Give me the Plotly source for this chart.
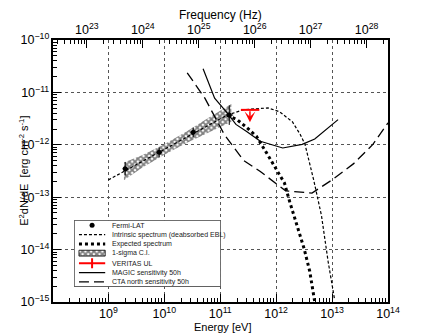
import numpy as np
import plotly.graph_objects as go

# ---- data (E in eV, E^2 dN/dE in erg cm^-2 s^-1) ----
fermi_E = [2.0e9, 8.1e9, 3.29e10, 1.45e11]
fermi_F = [3.5e-13, 7.2e-13, 1.74e-12, 3.7e-12]
fermi_Fup = [1.2e-13, 1.7e-13, 0.40e-12, 2.0e-12]
fermi_Fdn = [0.9e-13, 1.4e-13, 0.33e-12, 1.3e-12]
fermi_Eup = [0.25e9, 1.0e9, 4.0e9, 2.5e10]
fermi_Edn = [0.2e9, 0.9e9, 3.5e9, 2.0e10]

band_E = [1.9e9, 4.0e9, 1.0e10, 2.5e10, 6.3e10, 1.58e11]
band_hi = [4.6e-13, 6.3e-13, 1.03e-12, 1.80e-12, 3.31e-12, 6.0e-12]
band_lo = [2.1e-13, 3.63e-13, 6.49e-13, 1.08e-12, 1.74e-12, 2.75e-12]

intr_E = [1e9, 3e9, 1e10, 3e10, 1e11, 1.33e11, 2.63e11, 7.18e11, 1.15e12,
          1.95e12, 2.69e12, 3.28e12, 4.71e12, 6.46e12, 8.51e12, 1.10e13]
intr_F = [2.14e-13, 4.06e-13, 8.17e-13, 1.55e-12, 3.12e-12, 3.69e-12, 4.68e-12,
          5.05e-12, 4.27e-12, 2.75e-12, 1.58e-12, 1.02e-12, 2.09e-13, 4.47e-14,
          5.89e-15, 1.17e-15]

exp_E = [1.33e11, 2.0e11, 2.97e11, 4.44e11, 6.61e11,
         9.89e11, 1.41e12, 1.74e12, 2.39e12, 3.16e12, 3.98e12, 4.71e12, 4.9e12]
exp_F = [3.69e-12, 3.02e-12,
         2.14e-12, 1.45e-12, 7.24e-13, 3.55e-13, 1.86e-13, 8.3e-14, 2.88e-14,
         1.05e-14, 3.89e-15, 1.32e-15, 1.0e-15]

veritas_E = 3.4e11
veritas_Elo = 2.34e11
veritas_Ehi = 5.0e11
veritas_F = 4.64e-12
veritas_arrow_F = 2.7e-12

magic_E = [4.94e10, 7.94e10, 1.33e11, 1.91e11, 2.97e11, 5.21e11, 1.31e12, 2.92e12, 4.9e12, 1.28e13]
magic_F = [2.82e-11, 7.76e-12, 4.07e-12, 2.45e-12, 1.80e-12, 1.17e-12, 8.7e-13, 1.02e-12, 1.29e-12, 3.02e-12]

cta_E = [2.57e10, 5.31e10, 1.18e11, 2.63e11, 5.21e11, 1.48e12, 4.37e12, 9.68e12, 2.43e13, 5.37e13, 1e14]
cta_F = [2.37e-11, 7.76e-12, 1.58e-12, 5.0e-13, 3.09e-13, 1.32e-13, 1.20e-13, 2.09e-13, 4.37e-13, 1.02e-12, 2.63e-12]

legend_labels = ["Fermi-LAT", "Intrinsic spectrum (deabsorbed EBL)", "Expected spectrum",
                 "1-sigma C.I.", "VERITAS UL", "MAGIC sensitivity 50h", "CTA north sensitivity 50h"]

HZ_PER_EV = 2.418e14
FONT = "Liberation Sans, Arial, sans-serif"

intr_style = dict(color="black", width=1.2, dash="3px,2px")
exp_style = dict(color="black", width=3, dash="3px,3px")
magic_style = dict(color="black", width=1.2)
cta_style = dict(color="black", width=1.3, dash="10px,5px")
hatch = dict(shape="x", size=4, solidity=0.7, fgcolor="black", bgcolor="white")

fig = go.Figure()

# butterfly
fig.add_trace(go.Scatter(
    x=band_E + band_E[::-1], y=band_hi + band_lo[::-1], fill="toself",
    mode="lines", line=dict(width=0), fillcolor="white", fillpattern=hatch,
    showlegend=False, hoverinfo="skip"))

fig.add_trace(go.Scatter(x=intr_E, y=intr_F, mode="lines", line=intr_style, showlegend=False))
fig.add_trace(go.Scatter(x=exp_E, y=exp_F, mode="lines", line=exp_style, showlegend=False))
fig.add_trace(go.Scatter(x=magic_E, y=magic_F, mode="lines", line=magic_style, showlegend=False))
fig.add_trace(go.Scatter(x=cta_E, y=cta_F, mode="lines", line=cta_style, showlegend=False))

fig.add_trace(go.Scatter(
    x=fermi_E, y=fermi_F, mode="markers",
    marker=dict(color="black", size=5),
    error_y=dict(type="data", symmetric=False, array=fermi_Fup, arrayminus=fermi_Fdn,
                 color="black", thickness=1, width=0),
    error_x=dict(type="data", symmetric=False, array=fermi_Eup, arrayminus=fermi_Edn,
                 color="black", thickness=1, width=0),
    showlegend=False))

# VERITAS upper limit
fig.add_trace(go.Scatter(
    x=[veritas_E], y=[veritas_F], mode="markers", marker=dict(size=1, color="red"),
    error_x=dict(type="data", symmetric=False, array=[veritas_Ehi - veritas_E],
                 arrayminus=[veritas_E - veritas_Elo], color="red", thickness=2, width=0),
    showlegend=False))
fig.add_annotation(x=np.log10(veritas_E), y=np.log10(veritas_arrow_F),
                   ax=np.log10(veritas_E), ay=np.log10(veritas_F),
                   xref="x", yref="y", axref="x", ayref="y", text="",
                   showarrow=True, arrowhead=3, arrowsize=1.2, arrowwidth=1.5, arrowcolor="red")

# invisible trace for the frequency axis
fig.add_trace(go.Scatter(x=[e * HZ_PER_EV for e in cta_E], y=cta_F, xaxis="x2",
                         mode="lines", line=dict(width=0), opacity=0,
                         showlegend=False, hoverinfo="skip"))

# ---- hand-drawn legend box on a hidden axis pair ----
rows = [5, 14.7, 24.3, 33.7, 44, 53.7, 63]
sx = [5, 32]
mid = 18.5
lx = dict(xaxis="x3", yaxis="y3", showlegend=False, hoverinfo="skip")
fig.add_trace(go.Scatter(x=[0, 151, 151, 0, 0], y=[0, 0, 68, 68, 0], fill="toself",
                         fillcolor="white", mode="lines", line=dict(color="black", width=1), **lx))
fig.add_trace(go.Scatter(x=[mid], y=[rows[0]], mode="markers",
                         marker=dict(color="black", size=5), **lx))
fig.add_trace(go.Scatter(x=sx, y=[rows[1]] * 2, mode="lines", line=intr_style, **lx))
fig.add_trace(go.Scatter(x=sx, y=[rows[2]] * 2, mode="lines", line=exp_style, **lx))
fig.add_trace(go.Scatter(x=[5, 32, 32, 5, 5], y=[rows[3] - 3, rows[3] - 3, rows[3] + 3, rows[3] + 3, rows[3] - 3],
                         fill="toself", mode="lines", line=dict(color="black", width=0.8),
                         fillpattern=hatch, **lx))
fig.add_trace(go.Scatter(x=sx, y=[rows[4]] * 2, mode="lines", line=dict(color="red", width=2), **lx))
fig.add_trace(go.Scatter(x=[mid], y=[rows[4]], mode="markers",
                         marker=dict(symbol="line-ns", size=7, line=dict(color="red", width=2)), **lx))
fig.add_trace(go.Scatter(x=sx, y=[rows[5]] * 2, mode="lines", line=magic_style, **lx))
fig.add_trace(go.Scatter(x=sx, y=[rows[6]] * 2, mode="lines", line=cta_style, **lx))
for r, lab in zip(rows, legend_labels):
    fig.add_annotation(x=37, y=r, xref="x3", yref="y3", text=lab, showarrow=False,
                       xanchor="left", yanchor="middle", font=dict(size=7, color="#222"))

common = dict(
    type="log", ticks="inside", ticklen=8, tickwidth=1, tickcolor="black",
    dtick=1, exponentformat="power", showexponent="all",
    showline=True, linecolor="black", linewidth=1.5,
    tickfont=dict(size=10, color="black", family=FONT),
    minor=dict(ticks="inside", ticklen=4, tickwidth=1, tickcolor="black", dtick="D1", showgrid=False),
    zeroline=False,
)

# the page body adds an 8px offset, so margins are trimmed on the left/top
fig.update_layout(
    width=432, height=336,
    margin=dict(l=35, r=52, t=26, b=42),
    plot_bgcolor="white", paper_bgcolor="white",
    font=dict(family=FONT, color="black"),
    showlegend=False,
    xaxis=dict(range=[8.01, 14], showgrid=True, gridcolor="#555", griddash="dot", gridwidth=1,
               domain=[0, 1], **common),
    yaxis=dict(range=[-15, -10], showgrid=True, gridcolor="#555", griddash="dot", gridwidth=1,
               mirror=True, **common),
    xaxis2=dict(range=[np.log10(1e8 * HZ_PER_EV) + 0.01, np.log10(1e14 * HZ_PER_EV)], overlaying="x",
                side="top", anchor="y", showgrid=False, **common),
    xaxis3=dict(domain=[0.063, 0.501], range=[0, 151], visible=False, anchor="y3", fixedrange=True),
    yaxis3=dict(domain=[0.0585, 0.312], range=[68, 0], visible=False, anchor="x3", fixedrange=True),
)

fig.add_annotation(text="Frequency (Hz)", x=0.5, y=1.096, xref="paper", yref="paper",
                   showarrow=False, font=dict(size=12), xanchor="center", yanchor="middle")
fig.add_annotation(text="Energy [eV]", x=0.507, y=-0.097, xref="paper", yref="paper",
                   showarrow=False, font=dict(size=11), xanchor="center", yanchor="middle")
fig.add_annotation(text="E<sup>2</sup>dN/dE  [erg cm<sup>-2</sup> s<sup>-1</sup>]",
                   x=-0.087, y=0.5, xref="paper", yref="paper", textangle=-90,
                   showarrow=False, font=dict(size=11), xanchor="center", yanchor="middle")

fig.write_html("out.html")
